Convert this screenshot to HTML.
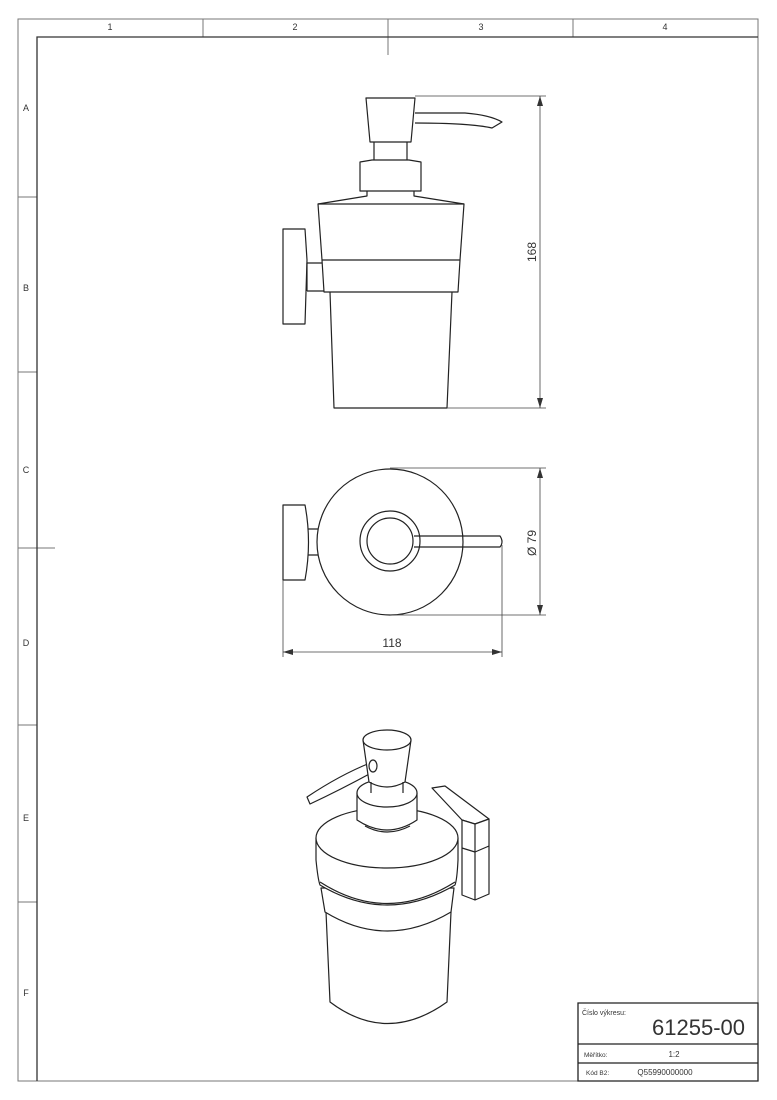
<!DOCTYPE html>
<html><head><meta charset="utf-8"><style>
html,body{margin:0;padding:0;background:#fff;width:777px;height:1100px;overflow:hidden}
svg{display:block}
text{font-family:"Liberation Sans",sans-serif;fill:#333}
</style></head><body>
<svg width="777" height="1100" viewBox="0 0 777 1100" xmlns="http://www.w3.org/2000/svg">
<g fill="none" stroke="#777" stroke-width="1">
<path d="M18 19H758V1081H18Z"/>
<path d="M203 19V37M388 19V55M573 19V37"/>
<path d="M18 197H37M18 372H37M18 548H55M18 725H37M18 902H37"/>
</g>
<path d="M37 1081V37H758" fill="none" stroke="#333" stroke-width="1.3"/>
<g font-size="9" text-anchor="middle">
<text x="110" y="30">1</text><text x="295" y="30">2</text><text x="481" y="30">3</text><text x="665" y="30">4</text>
<text x="26" y="111">A</text><text x="26" y="291">B</text><text x="26" y="473">C</text><text x="26" y="646">D</text><text x="26" y="821">E</text><text x="26" y="996">F</text>
</g>

<g fill="none" stroke="#222" stroke-width="1.2" stroke-linejoin="round">
<!-- front view -->
<path d="M366 98H415L411 142H370Z"/>
<path d="M415 113H465Q490 115 502 122L492 128Q470 123 415 123"/>
<path d="M374 142V160M407 142V160"/>
<path d="M360 162L372 160H409L421 162V191H360Z"/>
<path d="M367 191V196L318 204M414 191V196L464 204"/>
<path d="M318 204H464L460 260H322Z"/>
<path d="M322 260L324 292H458L460 260"/>
<path d="M330 292L334 408H447L452 292"/>
<path d="M283 229H305L307 260L305 324H283Z"/>
<path d="M307 263H322M307 291H324M307 263V291"/>
<!-- top view -->
<circle cx="390" cy="542" r="73"/>
<circle cx="390" cy="541" r="30"/>
<circle cx="390" cy="541" r="23"/>
<path d="M414 536H500Q504 542 500 547H414"/>
<path d="M283 505H305Q312 542 305 580H283Z"/>
<path d="M308 529H318M308 555H318"/>
</g>
<!-- iso view -->
<g fill="#fff" stroke="#222" stroke-width="1.2" stroke-linejoin="round">
<path d="M432 788L445 786L489 819L475 824L462 820Z"/>
<path d="M462 820V895L475 900V824ZM475 900L489 894V819L475 824Z"/>
<path d="M462 848L475 852L489 846" fill="none"/>
<path d="M326 912L330 1002Q387 1045 447 1002L451 912Z"/>
<path d="M321 888L325 912Q387 950 451 912L454 888Z"/>
<path d="M316 838V860Q318 880 320 885Q387 925 455 885Q457 880 458 860V838Z"/>
<path d="M320 882Q387 925 455 882" fill="none"/>
<ellipse cx="387" cy="838" rx="71" ry="30"/>
<path d="M370 763Q340 775 307 797L310 804Q340 790 373 772Z"/>
<path d="M357 793V820Q387 840 417 820V793Z"/>
<ellipse cx="387" cy="793" rx="30" ry="14"/>
<path d="M365 826Q387 838 410 826" fill="none"/>
<path d="M363 740L369 782Q387 792 405 782L411 740Z"/>
<ellipse cx="387" cy="740" rx="24" ry="10"/>
<path d="M371 782V793M403 782V793" fill="none"/>
<ellipse cx="373" cy="766" rx="4" ry="6"/>
</g>

<g fill="none" stroke="#444" stroke-width="0.8">
<path d="M415 96H546M447 408H546M540 96V408"/>
<path d="M390 468H546M390 615H546M540 468V615"/>
<path d="M283 580V657M502 545V657M283 652H502"/>
</g>
<g fill="#333">
<path d="M540 96l-3 10h6Z M540 408l-3-10h6Z"/>
<path d="M540 468l-3 10h6Z M540 615l-3-10h6Z"/>
<path d="M283 652l10-3v6Z M502 652l-10-3v6Z"/>
</g>
<text x="536" y="252" font-size="12" text-anchor="middle" transform="rotate(-90 536 252)">168</text>
<text x="536" y="543" font-size="12" text-anchor="middle" transform="rotate(-90 536 543)">Ø 79</text>
<text x="392" y="647" font-size="12" text-anchor="middle">118</text>

<g fill="none" stroke="#222" stroke-width="1.3">
<path d="M578 1003H758V1081H578Z"/>
<path d="M578 1044H758M578 1063H758"/>
</g>
<text x="582" y="1015" font-size="7">Číslo výkresu:</text>
<text x="745" y="1035" font-size="22" text-anchor="end" fill="#222">61255-00</text>
<text x="584" y="1057" font-size="6.5">Měřítko:</text>
<text x="674" y="1057" font-size="8" text-anchor="middle">1:2</text>
<text x="586" y="1075" font-size="6.5">Kód B2:</text>
<text x="665" y="1075" font-size="8" text-anchor="middle">Q55990000000</text>
</svg>
</body></html>
